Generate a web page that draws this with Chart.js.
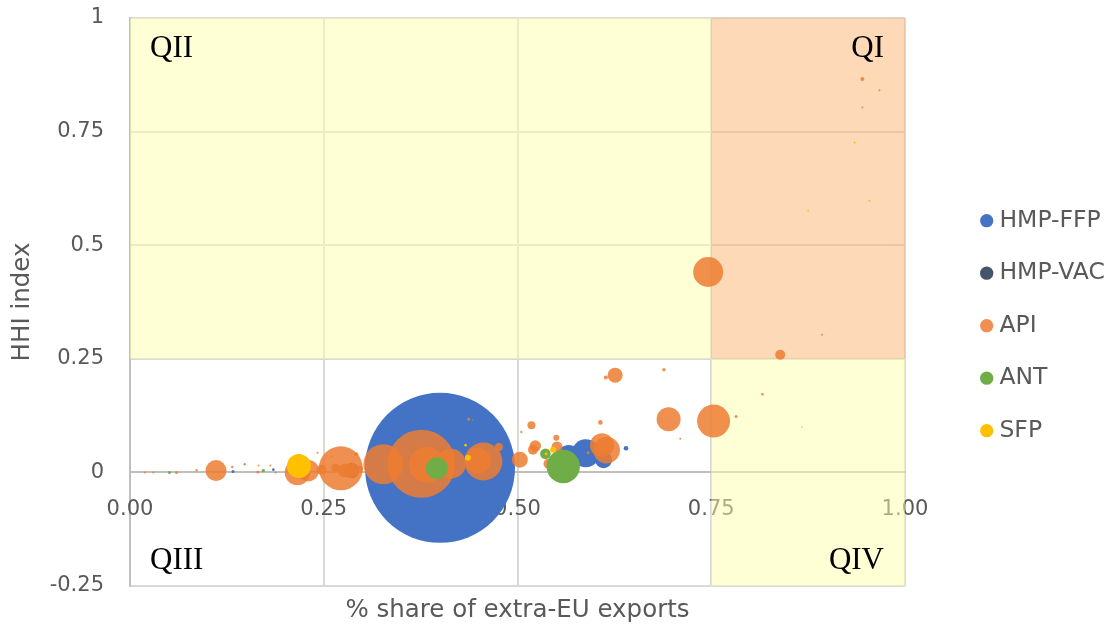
<!DOCTYPE html>
<html>
<head>
<meta charset="utf-8">
<script src="https://cdn.jsdelivr.net/npm/chart.js@4.4.1/dist/chart.umd.min.js"></script>
<style>
  html, body { margin: 0; padding: 0; background: #ffffff; }
  #wrap { width: 1119px; height: 627px; }
</style>
</head>
<body>
<div id="wrap"><canvas id="c" width="1119" height="627"></canvas></div>
<script>
// Product groups: [share of extra-EU exports, HHI index, bubble radius]
const seriesNames = ['HMP-FFP', 'HMP-VAC', 'API', 'ANT', 'SFP'];

const hmpFfp = [
  [0.400, 0.010, 75], [0.566, 0.034, 12], [0.588, 0.042, 14], [0.611, 0.028, 8.5],
  [0.640, 0.053, 2.3], [0.133, 0.002, 1.5], [0.185, 0.006, 1.3]
];

const hmpVac = [
  [0.286, 0.004, 7.5]
];

const api = [
  [0.376, 0.019, 34], [0.272, 0.009, 22], [0.327, 0.018, 20], [0.456, 0.024, 19],
  [0.383, 0.017, 18], [0.414, 0.019, 15], [0.449, 0.026, 13], [0.216, 0.000, 12.7],
  [0.230, 0.004, 10.7], [0.111, 0.004, 10.5], [0.753, 0.113, 16.5], [0.746, 0.441, 15],
  [0.695, 0.117, 12], [0.615, 0.049, 13.3], [0.609, 0.060, 12], [0.503, 0.028, 8],
  [0.626, 0.214, 7.5], [0.277, 0.004, 7], [0.286, 0.004, 7], [0.523, 0.058, 5.7],
  [0.520, 0.050, 5], [0.551, 0.056, 5.5], [0.540, 0.019, 5], [0.247, 0.006, 5],
  [0.839, 0.259, 5], [0.265, 0.010, 4], [0.476, 0.056, 4], [0.518, 0.104, 4],
  [0.550, 0.076, 3], [0.297, 0.008, 3], [0.607, 0.110, 2.3], [0.292, 0.040, 2],
  [0.614, 0.209, 2], [0.945, 0.866, 2], [0.689, 0.226, 1.7], [0.782, 0.123, 1.5],
  [0.591, 0.043, 1.5], [0.437, 0.117, 1.5], [0.060, 0.000, 1.5], [0.165, 0.001, 1.5],
  [0.816, 0.172, 1.3], [0.132, 0.012, 1.3], [0.148, 0.018, 1.3], [0.086, 0.005, 1.2],
  [0.505, 0.089, 1.2], [0.710, 0.074, 1], [0.967, 0.841, 1], [0.945, 0.803, 1],
  [0.893, 0.303, 1], [0.166, 0.015, 1], [0.181, 0.015, 1], [0.188, 0.000, 1],
  [0.019, 0.000, 1], [0.030, 0.000, 1], [0.242, 0.043, 1], [0.260, 0.035, 1]
];

const ant = [
  [0.559, 0.013, 16.7], [0.396, 0.009, 11], [0.536, 0.041, 5.3],
  [0.051, 0.000, 1.5], [0.172, 0.004, 1.7], [0.442, 0.116, 0.8]
];

const sfp = [
  [0.218, 0.014, 12], [0.436, 0.032, 3], [0.546, 0.050, 3], [0.537, 0.041, 1.5],
  [0.433, 0.060, 1.3], [0.935, 0.726, 1], [0.954, 0.598, 1], [0.875, 0.576, 0.8],
  [0.867, 0.100, 0.8]
];

const seriesData = [hmpFfp, hmpVac, api, ant, sfp];
const seriesColors = ['#4472C4', '#44546A', 'rgba(237,125,49,0.85)', '#70AD47', '#FFC000'];

const xTickLabels = ['0.00', '0.25', '0.50', '0.75', '1.00'];
const yTickLabels = ['-0.25', '0', '0.25', '0.5', '0.75', '1'];

// Quadrant split points
const splitShare = 0.75;
const splitHHI = 0.25;

const FONT = '"DejaVu Sans", sans-serif';
const GREY_TEXT = '#595959';

// Shaded quadrants drawn over the grid, under the bubbles
const quadrantShading = {
  id: 'quadrantShading',
  beforeDatasetsDraw(chart) {
    const { ctx, scales: { x, y } } = chart;
    const box = (x0, x1, y0, y1, color) => {
      const l = x.getPixelForValue(x0), r = x.getPixelForValue(x1);
      const t = y.getPixelForValue(y1), b = y.getPixelForValue(y0);
      ctx.fillStyle = color;
      ctx.fillRect(l, t, r - l, b - t);
    };
    ctx.save();
    box(x.min, splitShare, splitHHI, y.max, 'rgba(255,255,171,0.5)');
    box(splitShare, x.max, splitHHI, y.max, 'rgba(251,179,113,0.5)');
    box(splitShare, x.max, y.min, splitHHI, 'rgba(255,255,171,0.5)');
    ctx.restore();
  },
  afterDraw(chart) {
    const { ctx, chartArea: a } = chart;
    ctx.save();
    ctx.fillStyle = '#000000';
    ctx.font = '31px "Liberation Serif", serif';
    ctx.textBaseline = 'alphabetic';
    ctx.textAlign = 'left';
    ctx.fillText('QII', a.left + 20, a.top + 39);
    ctx.fillText('QIII', a.left + 20, a.bottom - 17);
    ctx.textAlign = 'right';
    ctx.fillText('QI', a.right - 21, a.top + 39);
    ctx.fillText('QIV', a.right - 21, a.bottom - 17);
    // horizontal axis title
    ctx.fillStyle = GREY_TEXT;
    ctx.font = '24.5px ' + FONT;
    ctx.textAlign = 'center';
    ctx.fillText('% share of extra-EU exports', (a.left + a.right) / 2, 617);
    ctx.restore();
  }
};

// Fixed legend column width
const LEGEND_WIDTH = 162.3;
const legendWidth = {
  id: 'legendWidth',
  beforeLayout(chart) {
    const lg = chart.legend;
    if (lg && !lg.__fixedWidth) {
      const fit = lg.fit.bind(lg);
      lg.fit = function () { fit(); this.width = LEGEND_WIDTH; };
      lg.__fixedWidth = true;
    }
  }
};

const datasets = seriesNames.map((name, i) => ({
  label: name,
  data: seriesData[i].map(p => ({ x: p[0], y: p[1], r: p[2] })),
  backgroundColor: seriesColors[i],
  borderWidth: 0,
  pointStyle: 'circle',
  order: seriesNames.length - i,
  xAxisID: 'x',
  yAxisID: 'y'
}));

new Chart(document.getElementById('c'), {
  type: 'bubble',
  data: { datasets },
  options: {
    responsive: false,
    devicePixelRatio: 1,
    animation: false,
    events: [],
    layout: { autoPadding: false, padding: { top: 18, bottom: 41, left: 0, right: 0 } },
    scales: {
      y: {
        type: 'linear',
        position: 'left',
        min: -0.25,
        max: 1,
        afterFit(s) { s.width = 130; s.paddingTop = 0; s.paddingBottom = 0; },
        ticks: {
          stepSize: 0.25,
          padding: 26,
          color: GREY_TEXT,
          font: { family: FONT, size: 21 },
          callback: (v, i) => yTickLabels[i]
        },
        grid: { color: '#d9d9d9', lineWidth: 2, drawTicks: false },
        border: { color: '#bfbfbf', width: 2 },
        title: {
          display: true,
          text: 'HHI index',
          color: GREY_TEXT,
          font: { family: FONT, size: 24.5 },
          padding: { top: 8.3, bottom: 0 }
        }
      },
      x: {
        type: 'linear',
        position: { y: 0 },
        min: 0,
        max: 1,
        afterFit(s) { s.paddingLeft = 0; s.paddingRight = 0; },
        ticks: {
          stepSize: 0.25,
          padding: 24.4,
          color: GREY_TEXT,
          font: { family: FONT, size: 21 },
          maxRotation: 0,
          autoSkip: false,
          callback: (v, i) => xTickLabels[i]
        },
        grid: { color: '#d9d9d9', lineWidth: 2, drawTicks: false },
        border: { color: '#bfbfbf', width: 2 }
      },
      gap: {
        type: 'linear',
        position: 'right',
        display: true,
        afterFit(s) { s.width = 51.7; s.paddingTop = 0; s.paddingBottom = 0; },
        ticks: { display: false },
        grid: { display: false, drawTicks: false },
        border: { display: false }
      }
    },
    plugins: {
      tooltip: { enabled: false },
      legend: {
        position: 'right',
        align: 'center',
        title: { display: true, text: '', font: { size: 1 }, padding: { top: 46.2, bottom: 0 } },
        labels: {
          usePointStyle: true,
          boxWidth: 2,
          boxHeight: 9.4,
          padding: 29,
          color: GREY_TEXT,
          font: { family: FONT, size: 23.5 },
          sort: (a, b) => a.datasetIndex - b.datasetIndex
        }
      }
    }
  },
  plugins: [quadrantShading, legendWidth]
});
</script>
</body>
</html>
